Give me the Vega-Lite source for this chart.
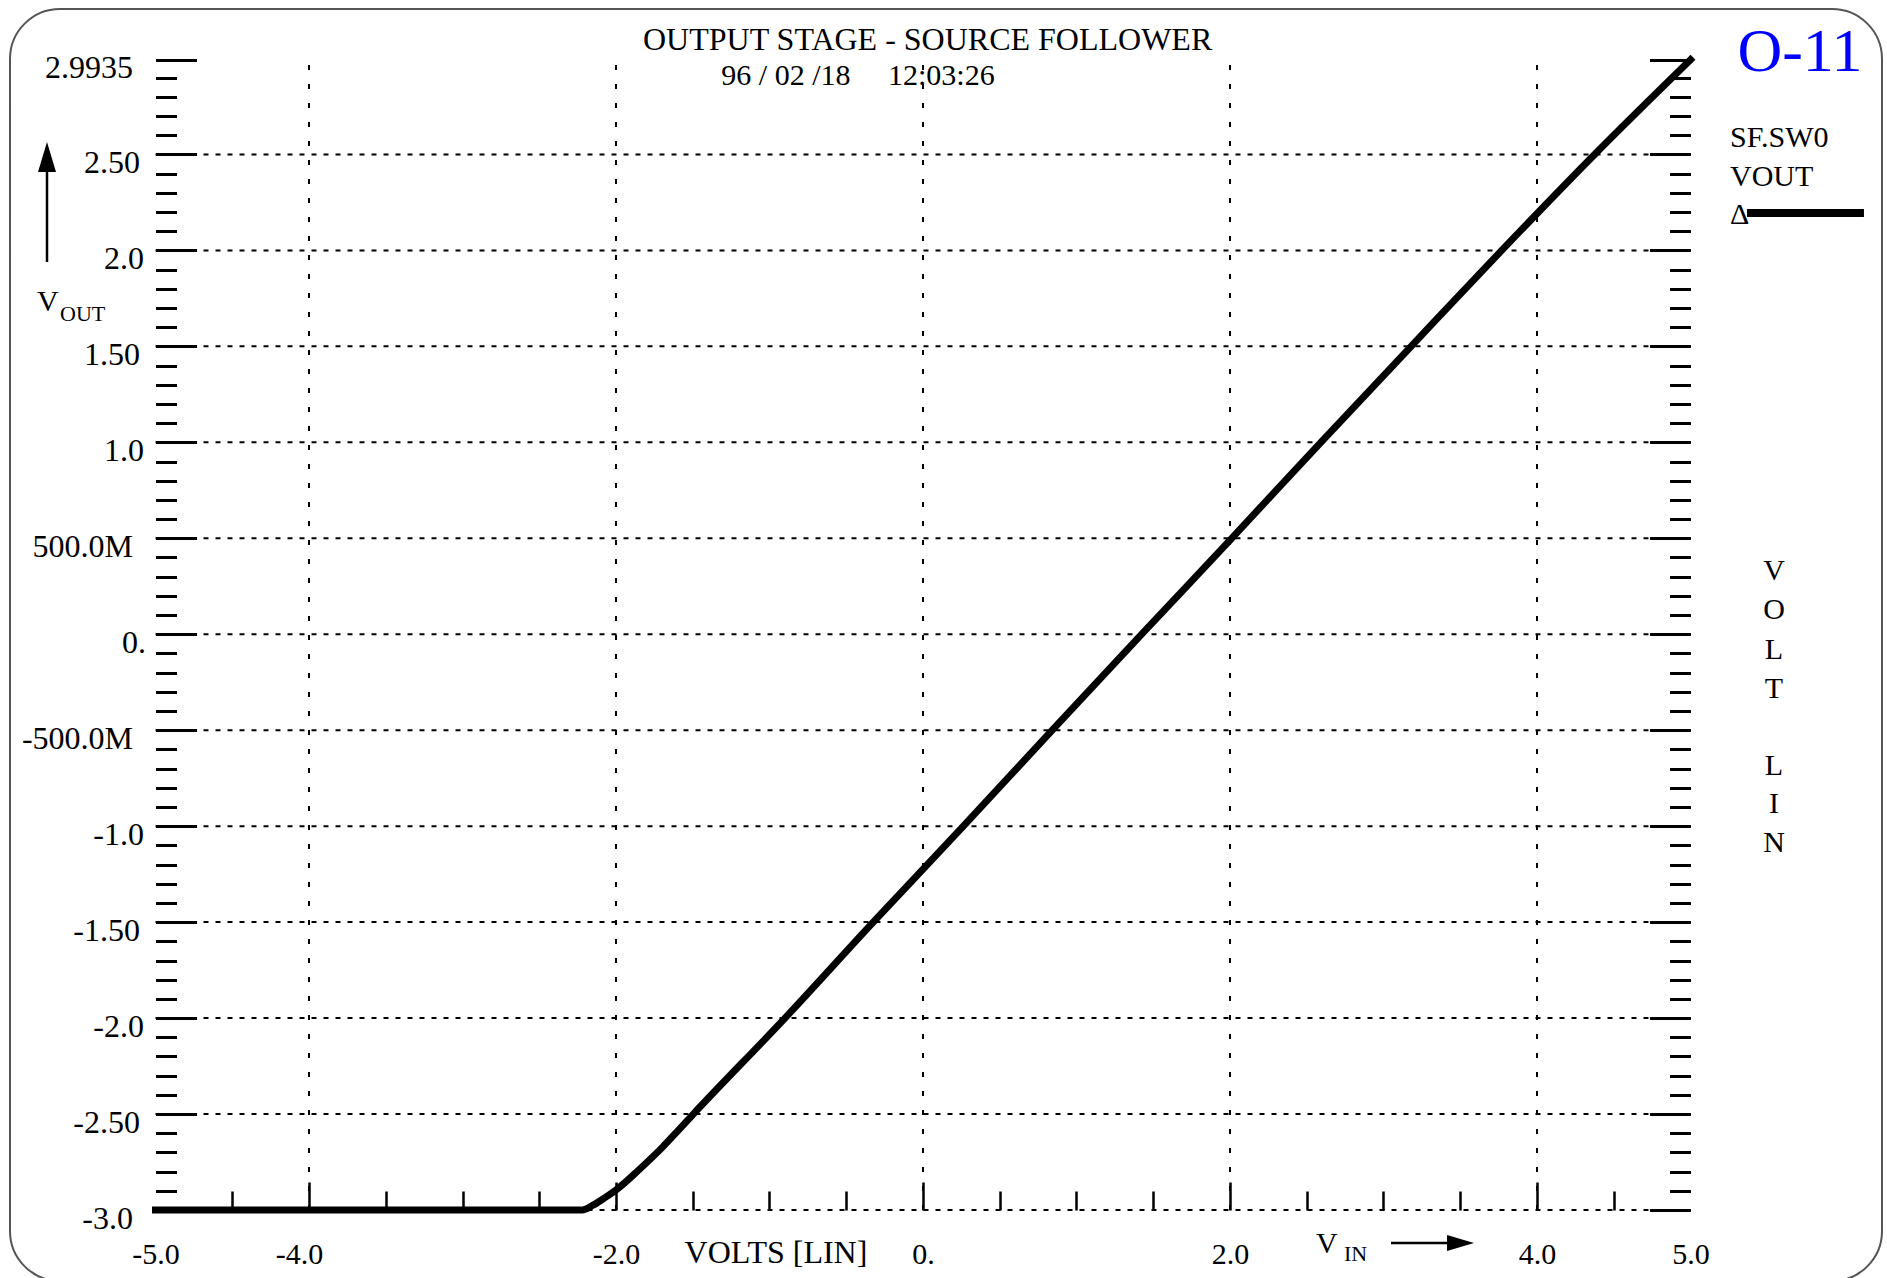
{
  "$schema": "https://vega.github.io/schema/vega-lite/v6.json",
  "width": 1872,
  "height": 1272,
  "autosize": {"type": "none"},
  "padding": {"left": 10, "top": 9, "right": 5, "bottom": -3},
  "background": "white",
  "view": {"stroke": "#555555", "strokeWidth": 2, "cornerRadius": 50, "fill": "white"},
  "config": {
    "font": "Liberation Serif",
    "text": {"font": "Liberation Serif", "color": "black"},
    "axis": {"labelFont": "Liberation Serif", "labelColor": "black", "labelFontSize": 30, "labelFlush": false, "labelOverlap": false, "labelBound": false, "domain": false, "grid": false, "title": null, "tickColor": "black"}
  },
  "datasets": {
    "curve": [
      {"vin": -5.0, "vout": -3.0},
      {"vin": -2.22, "vout": -3.0},
      {"vin": -2.15, "vout": -2.975},
      {"vin": -2.08, "vout": -2.94},
      {"vin": -2.0, "vout": -2.896},
      {"vin": -1.85, "vout": -2.79},
      {"vin": -1.7, "vout": -2.675},
      {"vin": -1.6, "vout": -2.59},
      {"vin": -1.496, "vout": -2.5},
      {"vin": -0.899, "vout": -2.0},
      {"vin": -0.324, "vout": -1.5},
      {"vin": 0.263, "vout": -1.0},
      {"vin": 0.842, "vout": -0.5},
      {"vin": 1.425, "vout": 0.0},
      {"vin": 2.011, "vout": 0.5},
      {"vin": 2.592, "vout": 1.0},
      {"vin": 3.18, "vout": 1.5},
      {"vin": 3.77, "vout": 2.0},
      {"vin": 4.375, "vout": 2.5},
      {"vin": 5.0, "vout": 2.9935}
    ],
    "hgrid": [{"v": -3}, {"v": -2.5}, {"v": -2}, {"v": -1.5}, {"v": -1}, {"v": -0.5}, {"v": 0}, {"v": 0.5}, {"v": 1}, {"v": 1.5}, {"v": 2}, {"v": 2.5}],
    "vgrid": [{"v": -4}, {"v": -2}, {"v": 0}, {"v": 2}, {"v": 4}],
    "one": [{}]
  },
  "resolve": {"axis": {"x": "independent", "y": "independent"}},
  "layer": [
    {
      "data": {"name": "hgrid"},
      "mark": {"type": "rule", "strokeDash": [5, 7], "strokeWidth": 2, "color": "black"},
      "encoding": {
        "y": {"field": "v", "type": "quantitative",
          "axis": {"orient": "right", "offset": -191.5, "labels": false,
            "values": [-3,-2.9,-2.8,-2.7,-2.6,-2.5,-2.4,-2.3,-2.2,-2.1,-2,-1.9,-1.8,-1.7,-1.6,-1.5,-1.4,-1.3,-1.2,-1.1,-1,-0.9,-0.8,-0.7,-0.6,-0.5,-0.4,-0.3,-0.2,-0.1,0,0.1,0.2,0.3,0.4,0.5,0.6,0.7,0.8,0.9,1,1.1,1.2,1.3,1.4,1.5,1.6,1.7,1.8,1.9,2,2.1,2.2,2.3,2.4,2.5,2.6,2.7,2.8,2.9,2.9935],
            "tickSize": {"condition": {"test": "datum.value > 2.99 || abs(datum.value * 2 - round(datum.value * 2)) < 0.001", "value": -41}, "value": -21},
            "tickWidth": 3}},
        "x": {"datum": -5, "type": "quantitative", "axis": null},
        "x2": {"datum": 5}
      }
    },
    {
      "data": {"name": "vgrid"},
      "mark": {"type": "rule", "strokeDash": [5, 14], "strokeWidth": 2, "color": "black"},
      "encoding": {
        "x": {"field": "v", "type": "quantitative", "axis": null},
        "y": {"datum": -3, "type": "quantitative", "axis": null},
        "y2": {"datum": 2.9935}
      }
    },
    {
      "data": {"name": "curve"},
      "mark": {"type": "line", "color": "black", "strokeWidth": 7, "interpolate": "monotone", "strokeCap": "square", "clip": false},
      "encoding": {
        "x": {"field": "vin", "type": "quantitative",
          "scale": {"domain": [-5.9479, 6.2476], "nice": false, "zero": false},
          "axis": {"orient": "bottom", "offset": -71,
            "values": [-5,-4.5,-4,-3.5,-3,-2.5,-2,-1.5,-1,-0.5,0,0.5,1,1.5,2,2.5,3,3.5,4,4.5,5],
            "labelExpr": "datum.value == 0 ? '0.' : indexof([-5,-4,-2,2,4,5], datum.value) >= 0 ? (datum.value < 0 ? '-' : '') + format(abs(datum.value), '.1f') : ''",
            "tickSize": {"condition": {"test": "indexof([-5,-4,-2,0,2,4,5], datum.value) >= 0", "value": -28}, "value": -19},
            "tickOpacity": {"condition": {"test": "abs(datum.value) > 4.9", "value": 0}, "value": 1},
            "labelOffset": {"condition": {"test": "datum.value == -4", "value": -10}, "value": 0},
            "tickWidth": 2.5,
            "labelFontSize": 30,
            "labelPadding": 72,
            "labelBaseline": "middle",
            "labelAlign": "center"}},
        "y": {"field": "vout", "type": "quantitative",
          "scale": {"domain": [-3.3699, 3.2577], "nice": false, "zero": false},
          "axis": {"orient": "left", "offset": -145.5,
            "values": [-3,-2.9,-2.8,-2.7,-2.6,-2.5,-2.4,-2.3,-2.2,-2.1,-2,-1.9,-1.8,-1.7,-1.6,-1.5,-1.4,-1.3,-1.2,-1.1,-1,-0.9,-0.8,-0.7,-0.6,-0.5,-0.4,-0.3,-0.2,-0.1,0,0.1,0.2,0.3,0.4,0.5,0.6,0.7,0.8,0.9,1,1.1,1.2,1.3,1.4,1.5,1.6,1.7,1.8,1.9,2,2.1,2.2,2.3,2.4,2.5,2.6,2.7,2.8,2.9,2.9935],
            "labelExpr": "datum.value > 2.99 ? '2.9935' : abs(datum.value * 2 - round(datum.value * 2)) > 0.001 ? '' : abs(datum.value) < 0.001 ? '0.' : datum.value == 0.5 ? '500.0M' : datum.value == -0.5 ? '-500.0M' : (datum.value < 0 ? '-' : '') + (datum.value == round(datum.value) ? format(abs(datum.value), '.1f') : format(abs(datum.value), '.2f'))",
            "tickSize": {"condition": {"test": "datum.value > 2.99 || abs(datum.value * 2 - round(datum.value * 2)) < 0.001", "value": -41}, "value": -21},
            "tickWidth": 3,
            "labelFontSize": 32,
            "labelPadding": {"condition": [
              {"test": "datum.value > 2.99 || datum.value < -2.99 || abs(abs(datum.value) - 0.5) < 0.001", "value": 64},
              {"test": "abs(datum.value) < 0.001", "value": 51},
              {"test": "abs(datum.value - round(datum.value)) < 0.001", "value": 53}
            ], "value": 57},
            "labelOffset": 8,
            "labelAlign": "right",
            "labelBaseline": "middle"}}
      }
    },
    {
      "data": {"name": "one"},
      "mark": {"type": "text", "text": "OUTPUT STAGE - SOURCE FOLLOWER", "fontSize": 32, "align": "center", "baseline": "middle"},
      "encoding": {"x": {"datum": 0.03, "type": "quantitative", "axis": null}, "y": {"datum": 3.0937, "type": "quantitative", "axis": null}}
    },
    {
      "data": {"name": "one"},
      "mark": {"type": "text", "text": "96 / 02 /18\u00a0\u00a0\u00a0\u00a0\u00a012:03:26", "fontSize": 30, "align": "center", "baseline": "middle"},
      "encoding": {"x": {"datum": -0.4235, "type": "quantitative", "axis": null}, "y": {"datum": 2.906, "type": "quantitative", "axis": null}}
    },
    {
      "data": {"name": "one"},
      "mark": {"type": "text", "text": "O-11", "fontSize": 62, "align": "center", "baseline": "middle", "color": "#0000FF"},
      "encoding": {"x": {"datum": 5.7134, "type": "quantitative", "axis": null}, "y": {"datum": 3.0338, "type": "quantitative", "axis": null}}
    },
    {
      "data": {"name": "one"},
      "mark": {"type": "text", "text": "SF.SW0", "fontSize": 30, "align": "left", "baseline": "middle"},
      "encoding": {"x": {"datum": 5.2573, "type": "quantitative", "axis": null}, "y": {"datum": 2.5856, "type": "quantitative", "axis": null}}
    },
    {
      "data": {"name": "one"},
      "mark": {"type": "text", "text": "VOUT", "fontSize": 30, "align": "left", "baseline": "middle"},
      "encoding": {"x": {"datum": 5.2573, "type": "quantitative", "axis": null}, "y": {"datum": 2.3825, "type": "quantitative", "axis": null}}
    },
    {
      "data": {"name": "one"},
      "mark": {"type": "text", "text": "Δ", "fontSize": 30, "align": "left", "baseline": "middle"},
      "encoding": {"x": {"datum": 5.2573, "type": "quantitative", "axis": null}, "y": {"datum": 2.185, "type": "quantitative", "axis": null}}
    },
    {
      "data": {"name": "one"},
      "mark": {"type": "rule", "strokeWidth": 8, "color": "black"},
      "encoding": {"x": {"datum": 5.368, "type": "quantitative", "axis": null}, "x2": {"datum": 6.13}, "y": {"datum": 2.195, "type": "quantitative", "axis": null}}
    },
    {
      "data": {"name": "one"},
      "mark": {"type": "text", "text": ["V", "O", "L", "T"], "fontSize": 30, "align": "center", "baseline": "middle", "lineHeight": 39.5},
      "encoding": {"x": {"datum": 5.544, "type": "quantitative", "axis": null}, "y": {"datum": 0.3295, "type": "quantitative", "axis": null}}
    },
    {
      "data": {"name": "one"},
      "mark": {"type": "text", "text": ["L", "I", "N"], "fontSize": 30, "align": "center", "baseline": "middle", "lineHeight": 38.5},
      "encoding": {"x": {"datum": 5.544, "type": "quantitative", "axis": null}, "y": {"datum": -0.6865, "type": "quantitative", "axis": null}}
    },
    {
      "data": {"name": "one"},
      "mark": {"type": "rule", "strokeWidth": 2.5, "color": "black"},
      "encoding": {"x": {"datum": -5.7068, "type": "quantitative", "axis": null}, "y": {"datum": 1.9396, "type": "quantitative", "axis": null}, "y2": {"datum": 2.4971}}
    },
    {
      "data": {"name": "one"},
      "mark": {"type": "point", "shape": "M0,-1L0.6,1L-0.6,1Z", "size": 900, "filled": true, "color": "black", "opacity": 1, "strokeWidth": 0},
      "encoding": {"x": {"datum": -5.7068, "type": "quantitative", "axis": null}, "y": {"datum": 2.4867, "type": "quantitative", "axis": null}}
    },
    {
      "data": {"name": "one"},
      "mark": {"type": "text", "text": "V", "fontSize": 30, "align": "left", "baseline": "middle"},
      "encoding": {"x": {"datum": -5.772, "type": "quantitative", "axis": null}, "y": {"datum": 1.7311, "type": "quantitative", "axis": null}}
    },
    {
      "data": {"name": "one"},
      "mark": {"type": "text", "text": "OUT", "fontSize": 22, "align": "left", "baseline": "middle"},
      "encoding": {"x": {"datum": -5.622, "type": "quantitative", "axis": null}, "y": {"datum": 1.6686, "type": "quantitative", "axis": null}}
    },
    {
      "data": {"name": "one"},
      "mark": {"type": "text", "text": "VOLTS [LIN]", "fontSize": 32, "align": "center", "baseline": "middle"},
      "encoding": {"x": {"datum": -0.958, "type": "quantitative", "axis": null}, "y": {"datum": -3.224, "type": "quantitative", "axis": null}}
    },
    {
      "data": {"name": "one"},
      "mark": {"type": "text", "text": "V", "fontSize": 30, "align": "left", "baseline": "middle"},
      "encoding": {"x": {"datum": 2.5603, "type": "quantitative", "axis": null}, "y": {"datum": -3.1772, "type": "quantitative", "axis": null}}
    },
    {
      "data": {"name": "one"},
      "mark": {"type": "text", "text": "IN", "fontSize": 22, "align": "left", "baseline": "middle"},
      "encoding": {"x": {"datum": 2.7427, "type": "quantitative", "axis": null}, "y": {"datum": -3.2293, "type": "quantitative", "axis": null}}
    },
    {
      "data": {"name": "one"},
      "mark": {"type": "rule", "strokeWidth": 2.5, "color": "black"},
      "encoding": {"x": {"datum": 3.0489, "type": "quantitative", "axis": null}, "x2": {"datum": 3.4463}, "y": {"datum": -3.172, "type": "quantitative", "axis": null}}
    },
    {
      "data": {"name": "one"},
      "mark": {"type": "point", "shape": "M-1,-0.6L1,0L-1,0.6Z", "size": 729, "filled": true, "color": "black", "opacity": 1, "strokeWidth": 0},
      "encoding": {"x": {"datum": 3.5016, "type": "quantitative", "axis": null}, "y": {"datum": -3.172, "type": "quantitative", "axis": null}}
    }
  ]
}
